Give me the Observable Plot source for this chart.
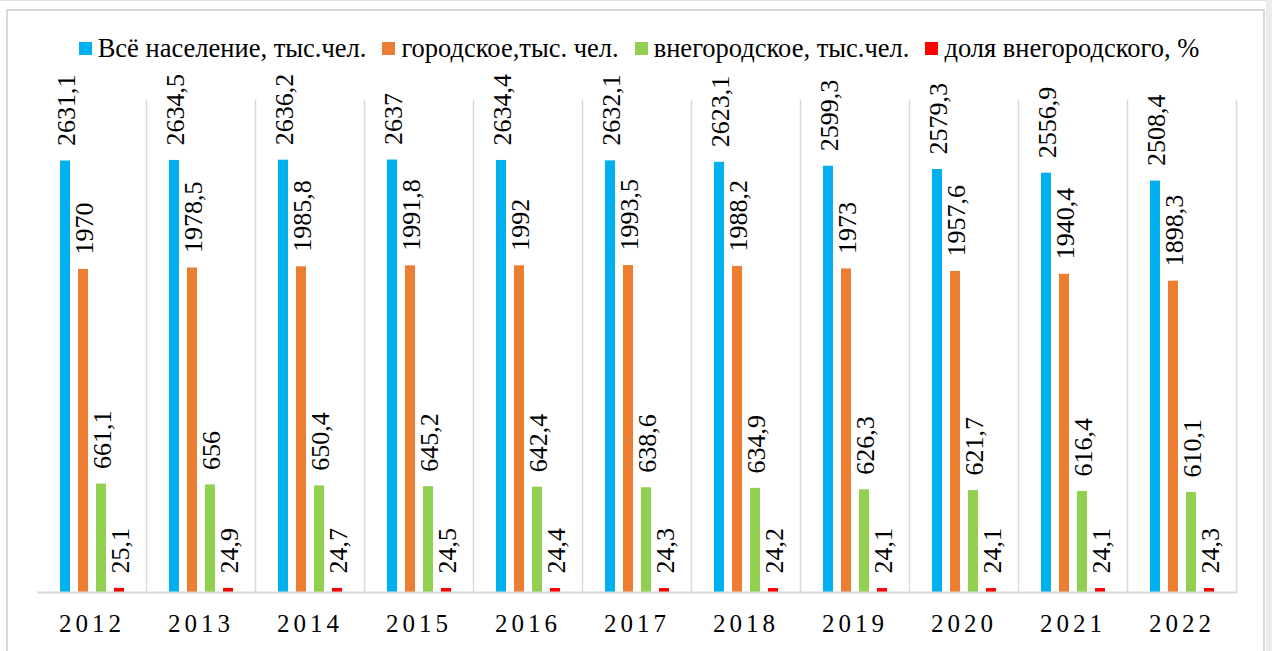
<!DOCTYPE html>
<html>
<head>
<meta charset="utf-8">
<script src="https://cdn.jsdelivr.net/npm/d3@7"></script>
<script src="https://cdn.jsdelivr.net/npm/@observablehq/plot@0.6"></script>
<style>
  html, body { margin: 0; padding: 0; background: #fff; }
  body { width: 1272px; height: 651px; overflow: hidden; position: relative; font-family: "Liberation Serif", "DejaVu Serif", serif; }
  #outer { position: absolute; left: 0; top: 0; width: 1272px; height: 700px; border-top: 1px solid #e0e0e0; box-sizing: border-box; }
  #strip { position: absolute; left: 1266px; top: 0; width: 6px; height: 651px; background: #ececec; }
  #frame { position: absolute; left: 6px; top: 9px; width: 1259px; height: 700px; border: 2px solid #d9d9d9; box-sizing: border-box; }
  #legend { position: absolute; left: 0; top: 33px; width: 1272px; display: flex; justify-content: center; align-items: center; padding-left: 6px; box-sizing: border-box; font-size: 26.5px; line-height: 30px; color: #000; white-space: nowrap; font-family: "Liberation Serif", "DejaVu Serif", serif; }
  #legend .item { display: flex; align-items: center; margin: 0 8px; }
  #legend .sw { width: 13px; height: 13px; margin-right: 6px; }
  #chart { position: absolute; left: 0; top: 0; }
  #chart svg, #chart svg text { font-family: "Liberation Serif", "DejaVu Serif", serif !important; }
  g[aria-label="fx-axis tick label"] text { letter-spacing: 4px; }
</style>
</head>
<body>
<div id="outer"></div>
<div id="strip"></div>
<div id="frame"></div>
<div id="chart"></div>
<div id="legend"></div>
<script>
const years = ["2012","2013","2014","2015","2016","2017","2018","2019","2020","2021","2022"];
const seriesNames = ["Всё население, тыс.чел.", "городское,тыс. чел.", "внегородское, тыс.чел.", "доля внегородского, %"];
const seriesColors = ["#00b0f0", "#ed7d31", "#92d050", "#ff0000"];
const total = [2631.1, 2634.5, 2636.2, 2637, 2634.4, 2632.1, 2623.1, 2599.3, 2579.3, 2556.9, 2508.4];
const urban = [1970, 1978.5, 1985.8, 1991.8, 1992, 1993.5, 1988.2, 1973, 1957.6, 1940.4, 1898.3];
const rural = [661.1, 656, 650.4, 645.2, 642.4, 638.6, 634.9, 626.3, 621.7, 616.4, 610.1];
const share = [25.1, 24.9, 24.7, 24.5, 24.4, 24.3, 24.2, 24.1, 24.1, 24.1, 24.3];

const seriesValues = [total, urban, rural, share];
const data = [];
years.forEach((yr, i) => {
  seriesNames.forEach((s, j) => {
    data.push({year: yr, series: s, value: seriesValues[j][i]});
  });
});
const fmt = v => String(v).replace(".", ",");
const FONT = "'Liberation Serif', 'DejaVu Serif', serif";

const chart = Plot.plot({
  width: 1272,
  height: 651,
  marginTop: 100,
  marginBottom: 59,
  marginLeft: 37,
  marginRight: 36,
  style: {fontFamily: FONT, fontSize: "25px", color: "#000", background: "transparent"},
  fx: {domain: years, padding: 0, label: null},
  x: {domain: seriesNames, paddingInner: 0.457, paddingOuter: 1.19, axis: null},
  y: {domain: [0, 3000], axis: null},
  color: {domain: seriesNames, range: seriesColors},
  marks: [
    Plot.frame({anchor: "right", stroke: "#d9d9d9", strokeWidth: 1.5}),
    Plot.barY(data, {fx: "year", x: "series", y: "value", fill: "series"}),
    Plot.ruleY([0], {stroke: "#d9d9d9", strokeWidth: 2}),
    Plot.text(data, {fx: "year", x: "series", y: "value", text: d => fmt(d.value), rotate: -90, textAnchor: "start", dy: -15, dx: 1, fontSize: 26, fontFamily: FONT, fill: "#000"}),
    Plot.axisFx({anchor: "bottom", tickSize: 0, tickPadding: 22, fontSize: 25, fontFamily: FONT, label: null})
  ]
});
document.getElementById("chart").appendChild(chart);

const legend = document.getElementById("legend");
seriesNames.forEach((s, i) => {
  const item = document.createElement("div");
  item.className = "item";
  const sw = document.createElement("div");
  sw.className = "sw";
  sw.style.background = seriesColors[i];
  const t = document.createElement("span");
  t.textContent = s;
  item.appendChild(sw);
  item.appendChild(t);
  legend.appendChild(item);
});
</script>
</body>
</html>
